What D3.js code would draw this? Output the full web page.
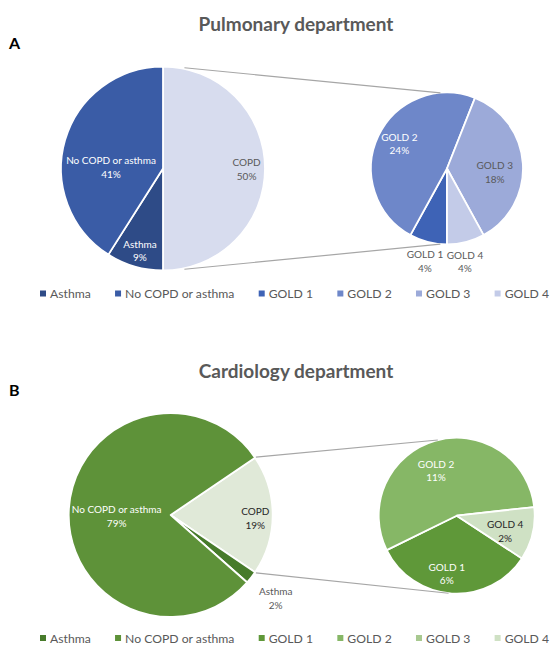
<!DOCTYPE html>
<html><head><meta charset="utf-8">
<script src="https://cdn.jsdelivr.net/npm/d3@7"></script>
<style>body{margin:0;background:#fff}svg{display:block;font-family:Lato,"Open Sans",sans-serif}</style>
</head><body><svg id="c" width="552" height="655"></svg>
<script>
// ---- data ----
const legendCategories = ["Asthma", "No COPD or asthma", "GOLD 1", "GOLD 2", "GOLD 3", "GOLD 4"];
const mainCategories = ["COPD", "Asthma", "No COPD or asthma"];
const goldCategories = ["GOLD 1", "GOLD 2", "GOLD 3", "GOLD 4"];
const pulmonaryMain = [50, 9, 41];
const pulmonaryGold = [4, 24, 18, 4];
const cardiologyMain = [19, 2, 79];
const cardiologyGold = [6.4, 10.6, 0, 2.1];
const titles = ["Pulmonary department", "Cardiology department"];
const panelLetters = ["A", "B"];

// ---- styles / layout ----
const bluePalette = {"Asthma": "#2e4b87", "No COPD or asthma": "#3a5ca6", "COPD": "#d7dcee",
  "GOLD 1": "#3e63b6", "GOLD 2": "#6e87c9", "GOLD 3": "#9caad9", "GOLD 4": "#c3cbe8"};
const greenPalette = {"Asthma": "#477b2b", "No COPD or asthma": "#5e9239", "COPD": "#e0e9d8",
  "GOLD 1": "#5f9839", "GOLD 2": "#86b766", "GOLD 3": "#a8c990", "GOLD 4": "#cfe1c4"};

const panels = [
  {main: pulmonaryMain, gold: pulmonaryGold, pal: bluePalette, top: 0,
   cL: [163, 168.5], rL: 102, cR: [447, 168.5], rR: 76, goldStart: 180,
   conn: [12, 168], connEnd: [355, 185],
   labL: {"No COPD or asthma": [271.7, 0.51, "#fff"], "COPD": [90, 0.82, "#595959"], "Asthma": [195.7, 0.835, "#fff"]},
   labR: {"GOLD 2": [298, 0.71, "#fff"], "GOLD 3": [94, 0.63, "#595959"], "GOLD 1": [193.4, 1.25, "#595959"], "GOLD 4": [169, 1.24, "#595959"]},
   legendY: 294},
  {main: cardiologyMain, gold: cardiologyGold, pal: greenPalette, top: 347,
   cL: [170.7, 515], rL: 102, cR: [456.7, 515.7], rR: 78, goldStart: 123.2,
   conn: [0, 0], connEnd: [346, 186],
   labL: {"No COPD or asthma": [269, 0.53, "#fff"], "COPD": [92, 0.83, "#262626"], "Asthma": [128.2, 1.31, "#595959"]},
   labR: {"GOLD 2": [335.6, 0.64, "#fff"], "GOLD 4": [107, 0.65, "#262626"], "GOLD 1": [189.8, 0.75, "#fff"]},
   legendY: 638.5}
];

const svg = d3.select("#c");
const rad = d => d * Math.PI / 180;
const polar = (c, r, a) => [c[0] + r * Math.sin(rad(a)), c[1] - r * Math.cos(rad(a))];
const fmt = v => Math.round(v) + "%";

panels.forEach((p, i) => {
  // title & letter
  svg.append("text").attr("x", 296).attr("y", p.top + 30.5).attr("text-anchor", "middle")
    .attr("font-size", 19).attr("font-weight", 700).attr("fill", "#595959").text(titles[i]);
  svg.append("text").attr("x", 9).attr("y", p.top + 49).attr("font-size", 16).attr("font-weight", 700)
    .attr("fill", "#000").text(panelLetters[i]);

  // main pie
  const copdFrac = p.main[0] / d3.sum(p.main);
  const startL = Math.PI / 2 - copdFrac * Math.PI;
  const pieL = d3.pie().sort(null).value(d => d.v).startAngle(startL).endAngle(startL + 2 * Math.PI);
  const arcsL = pieL(mainCategories.map((k, j) => ({k, v: p.main[j]})));
  const arcL = d3.arc().innerRadius(0).outerRadius(p.rL);
  const gL = svg.append("g").attr("transform", `translate(${p.cL})`);
  gL.selectAll("path").data(arcsL).join("path").attr("d", arcL)
    .attr("fill", d => p.pal[d.data.k]).attr("stroke", "#fff").attr("stroke-width", 1.8)
    .attr("stroke-linejoin", "round");

  // gold pie
  const s = rad(p.goldStart);
  const pieR = d3.pie().sort(null).value(d => d.v).startAngle(s).endAngle(s + 2 * Math.PI);
  const arcsR = pieR(goldCategories.map((k, j) => ({k, v: p.gold[j]}))).filter(d => d.data.v > 0);
  const arcR = d3.arc().innerRadius(0).outerRadius(p.rR);
  const gR = svg.append("g").attr("transform", `translate(${p.cR})`);
  gR.selectAll("path").data(arcsR).join("path").attr("d", arcR)
    .attr("fill", d => p.pal[d.data.k]).attr("stroke", "#fff").attr("stroke-width", 1.8)
    .attr("stroke-linejoin", "round");

  // connector lines
  const copdArc = arcsL[0];
  const a0 = copdArc.startAngle * 180 / Math.PI + p.conn[0];
  const a1 = copdArc.endAngle * 180 / Math.PI - p.conn[0];
  [[a0, p.connEnd[0]], [a1, p.connEnd[1]]].forEach(([fa, ta]) => {
    const f = polar(p.cL, p.rL + 1, fa), t = polar(p.cR, p.rR, ta);
    svg.append("line").attr("x1", f[0]).attr("y1", f[1]).attr("x2", t[0]).attr("y2", t[1])
      .attr("stroke", "#a6a6a6").attr("stroke-width", 1.2);
  });

  // labels
  const drawLabel = (c, r, cfg, name, val) => {
    const pos = polar(c, r * cfg[1], cfg[0]);
    const t = svg.append("text").attr("text-anchor", "middle").attr("font-size", 10)
      .attr("fill", cfg[2]);
    t.append("tspan").attr("x", pos[0]).attr("y", pos[1] - 2.5).text(name);
    t.append("tspan").attr("x", pos[0]).attr("y", pos[1] + 11).text(fmt(val));
  };
  mainCategories.forEach((k, j) => { if (p.labL[k]) drawLabel(p.cL, p.rL, p.labL[k], k, p.main[j]); });
  goldCategories.forEach((k, j) => { if (p.labR[k] && p.gold[j] > 0) drawLabel(p.cR, p.rR, p.labR[k], k, p.gold[j]); });

  // legend: spread between x0 and x1
  const x0 = 40, x1 = 549;
  const items = legendCategories.map(k => {
    const rect = svg.append("rect").attr("y", p.legendY - 3.5).attr("width", 6).attr("height", 6)
      .attr("fill", p.pal[k]);
    const t = svg.append("text").attr("y", p.legendY + 4.3).attr("font-size", 12.2)
      .attr("fill", "#595959").text(k);
    return {rect, t, w: 10 + t.node().getComputedTextLength()};
  });
  const gap = (x1 - x0 - d3.sum(items, d => d.w)) / (items.length - 1);
  let x = x0;
  items.forEach(it => {
    it.rect.attr("x", x);
    it.t.attr("x", x + 10);
    x += it.w + gap;
  });
});
</script></body></html>
